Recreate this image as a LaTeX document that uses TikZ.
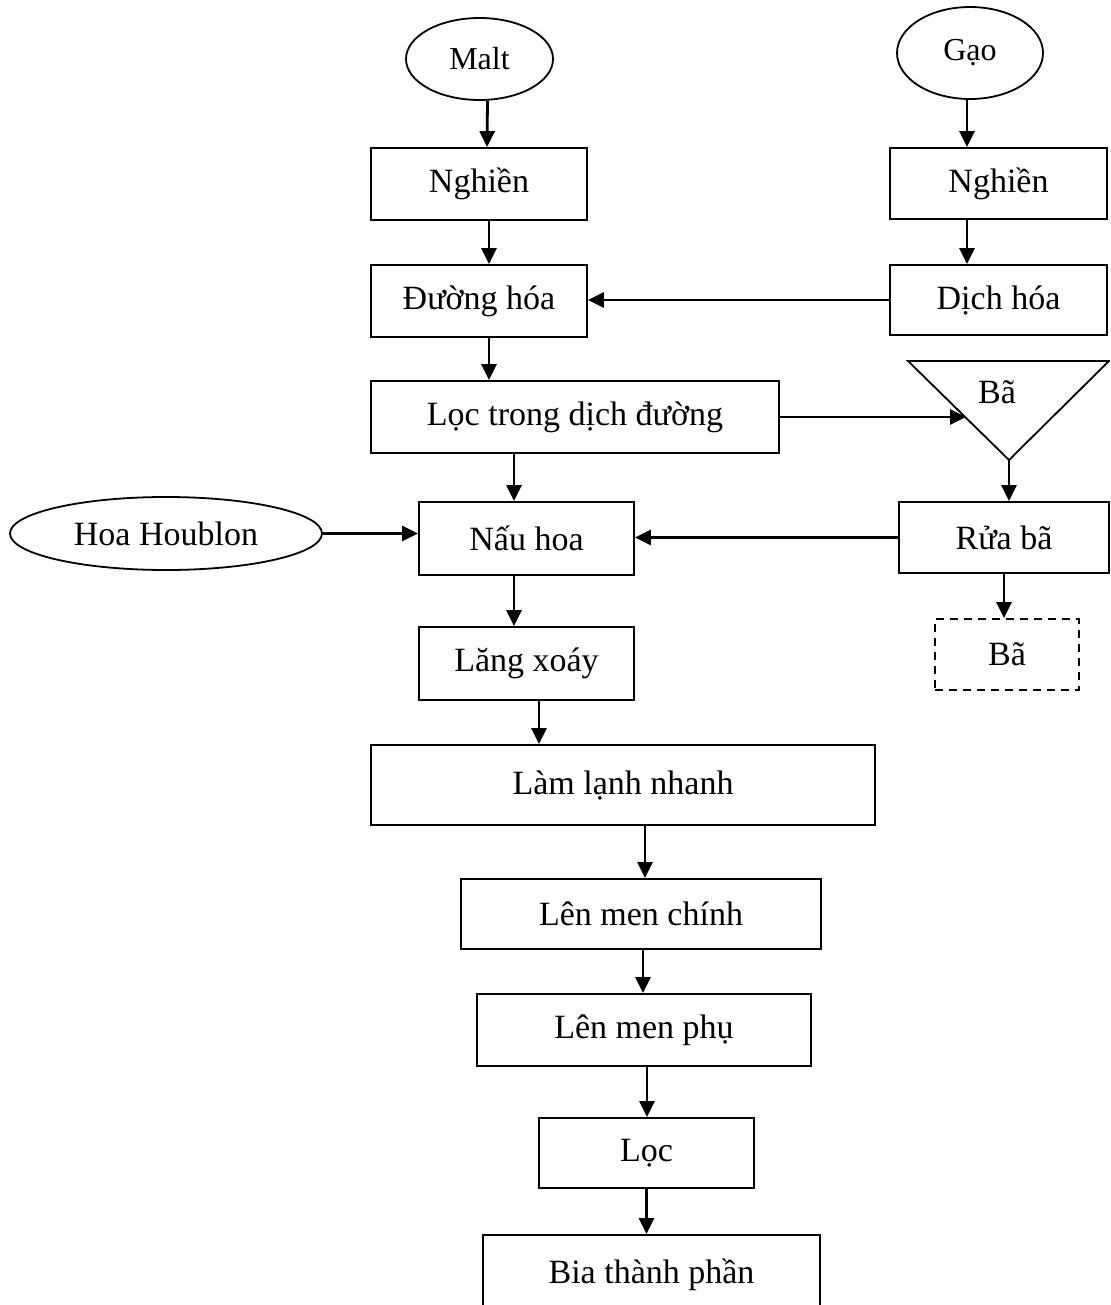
\documentclass[tikz,border=0pt]{standalone}
\usepackage{fontspec}
\setmainfont{Liberation Serif}
\usetikzlibrary{arrows.meta,shapes.geometric}
\begin{document}
\begin{tikzpicture}[x=0.5pt,y=-0.5pt,line cap=butt,line join=miter,
box/.style={draw,line width=0.9pt,rectangle,inner sep=0pt,font=\fontsize{17pt}{20pt}\selectfont},
oval/.style={draw,line width=0.9pt,ellipse,inner sep=0pt,font=\fontsize{16pt}{19pt}\selectfont},
arr/.style={line width=1.4pt,-{Triangle[length=8pt,width=7.5pt]}}]
\clip (0,0) rectangle (1110,1305);
\fill[white] (0,0) rectangle (1110,1305);
% nguyen lieu
\node[oval,minimum width=73.5pt,minimum height=41pt] (malt) at (479.5,59) {Malt};
\node[oval,minimum width=73pt,minimum height=46pt] (gao) at (970,53) {G\d{a}o};
\node[oval,font=\fontsize{17pt}{20pt}\selectfont,minimum width=156pt,minimum height=36.5pt] (hoa) at (166,533.5) {Hoa Houblon};
% cot trai
\node[box,minimum width=108pt,minimum height=36pt] (ngh1) at (479,184) {Nghiền};
\node[box,minimum width=108pt,minimum height=36pt] (duong) at (479,301) {Đường hóa};
\node[box,minimum width=204pt,minimum height=36pt] (loc1) at (575,417) {Lọc trong dịch đường};
\node[box,minimum width=107.5pt,minimum height=36.5pt] (nau) at (526.5,538.5) {Nấu hoa};
\node[box,minimum width=107.5pt,minimum height=36.5pt] (lang) at (526.5,663.5) {Lăng xoáy};
\node[box,minimum width=252pt,minimum height=40pt] (lam) at (623,785) {Làm lạnh nhanh};
\node[box,minimum width=180pt,minimum height=35pt] (chinh) at (641,914) {Lên men chính};
\node[box,minimum width=167pt,minimum height=36pt] (phu) at (644,1030) {Lên men phụ};
\node[box,minimum width=107.5pt,minimum height=35pt] (loc2) at (646.5,1153) {Lọc};
\node[box,minimum width=168.5pt,minimum height=40pt] (bia) at (651.5,1275) {Bia thành phần};
% cot phai
\node[box,minimum width=108.5pt,minimum height=35.5pt] (ngh2) at (998.5,183.5) {Nghiền};
\node[box,minimum width=108.5pt,minimum height=35pt] (dich) at (998.5,300) {Dịch hóa};
\draw[line width=0.9pt] (908,361) coordinate (tl) -- (1109,361) coordinate (tr) -- (1009,460) coordinate (ba1) -- cycle;
\node[font=\fontsize{17pt}{20pt}\selectfont] (ba1t) at (997,392) {Bã};
\coordinate (baIn) at (966,417);
\node[box,minimum width=105pt,minimum height=35.5pt] (rua) at (1004,537.5) {Rửa bã};
\node[box,dashed,dash pattern=on 4pt off 3pt,minimum width=72pt,minimum height=35.5pt] (ba2) at (1007,654.5) {Bã};
% mui ten
\draw[arr] ([xshift=4pt]malt.south) -- ([xshift=4pt]ngh1.north);
\draw[arr] ([xshift=-1.5pt]gao.south) -- ([xshift=-1.5pt]gao.south |- ngh2.north);
\draw[arr] ([xshift=5pt]ngh1.south) -- ([xshift=5pt]duong.north);
\draw[arr] ([xshift=-15.75pt]ngh2.south) -- ([xshift=-15.75pt]dich.north);
\draw[arr] (dich.west) -- (dich.west -| duong.east);
\draw[arr] ([xshift=5pt]duong.south) -- ([xshift=5pt]duong.south |- loc1.north);
\draw[arr] (loc1.east) -- (baIn);
\draw[arr] (ba1) -- (ba1 |- rua.north);
\draw[arr] (rua.west) -- (rua.west -| nau.east);
\draw[arr] (hoa.east) -- (hoa.east -| nau.west);
\draw[arr] ([xshift=-30.5pt]loc1.south) -- ([xshift=-30.5pt]loc1.south |- nau.north);
\draw[arr] (rua.south) -- (rua.south |- ba2.north);
\draw[arr] ([xshift=-6.25pt]nau.south) -- ([xshift=-6.25pt]lang.north);
\draw[arr] ([xshift=6.25pt]lang.south) -- ([xshift=6.25pt]lang.south |- lam.north);
\draw[arr] ([xshift=11pt]lam.south) -- ([xshift=11pt]lam.south |- chinh.north);
\draw[arr] ([xshift=1pt]chinh.south) -- ([xshift=1pt]chinh.south |- phu.north);
\draw[arr] ([xshift=1.5pt]phu.south) -- ([xshift=1.5pt]phu.south |- loc2.north);
\draw[arr] (loc2.south) -- (loc2.south |- bia.north);
\end{tikzpicture}
\end{document}
